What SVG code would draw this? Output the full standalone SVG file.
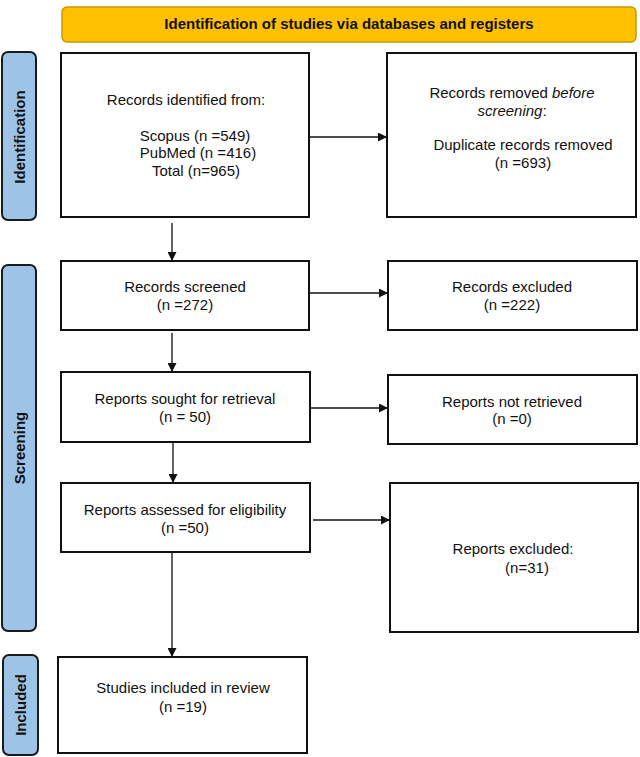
<svg xmlns="http://www.w3.org/2000/svg" width="640" height="757" viewBox="0 0 640 757">
<style>
text{font-family:"Liberation Sans",Arial,sans-serif;font-size:15px;fill:#111;text-anchor:middle}
.box{fill:#fff;stroke:#111;stroke-width:2}
.bar{fill:#9DC3E6;stroke:#1a1a1a;stroke-width:2}
.lab{font-weight:bold}
.con{stroke:#111;stroke-width:1.3;fill:none;marker-end:url(#ah)}
</style>
<defs>
<marker id="ah" viewBox="0 0 10 10" refX="10" refY="5" markerWidth="9" markerHeight="9" markerUnits="userSpaceOnUse" orient="auto">
<path d="M0,0 L10,5 L0,10 z" fill="#111"/>
</marker>
</defs>
<rect width="640" height="757" fill="#fff"/>
<g id="banner">
<rect x="62" y="7" width="574" height="35" rx="5" fill="#FFC000" stroke="#C49A00" stroke-width="1.5"/>
<text x="349" y="29" class="lab">Identification of studies via databases and registers</text>
</g>
<g id="bar-identification">
<rect class="bar" x="2" y="52" width="34" height="168" rx="6"/>
<text class="lab" transform="translate(25,137) rotate(-90)">Identification</text>
</g>
<g id="bar-screening">
<rect class="bar" x="2" y="265" width="34" height="366" rx="6"/>
<text class="lab" transform="translate(25,448) rotate(-90)">Screening</text>
</g>
<g id="bar-included">
<rect class="bar" x="3" y="655" width="35" height="100" rx="6"/>
<text class="lab" transform="translate(26,705) rotate(-90)">Included</text>
</g>
<g id="records-identified">
<rect class="box" x="61" y="53" width="248" height="164"/>
<text x="186" y="105">Records identified from:</text>
<text x="195" y="141">Scopus (n =549)</text>
<text x="198" y="158">PubMed (n =416)</text>
<text x="196" y="176">Total (n=965)</text>
</g>
<g id="records-removed">
<rect class="box" x="387" y="53" width="249" height="164"/>
<text x="512" y="98">Records removed <tspan font-style="italic">before</tspan></text>
<text x="512" y="116"><tspan font-style="italic">screening</tspan>:</text>
<text x="523" y="150">Duplicate records removed</text>
<text x="523" y="168">(n =693)</text>
</g>
<g id="records-screened">
<rect class="box" x="61" y="261" width="248" height="69"/>
<text x="185" y="292">Records screened</text>
<text x="185" y="310">(n =272)</text>
</g>
<g id="records-excluded">
<rect class="box" x="388" y="261" width="249" height="69"/>
<text x="512" y="292">Records excluded</text>
<text x="512" y="310">(n =222)</text>
</g>
<g id="reports-sought">
<rect class="box" x="61" y="372" width="249" height="70"/>
<text x="185" y="404">Reports sought for retrieval</text>
<text x="185" y="422">(n = 50)</text>
</g>
<g id="reports-not-retrieved">
<rect class="box" x="388" y="375" width="249" height="69"/>
<text x="512" y="407">Reports not retrieved</text>
<text x="512" y="424">(n =0)</text>
</g>
<g id="reports-assessed">
<rect class="box" x="61" y="483" width="249" height="69"/>
<text x="185" y="515">Reports assessed for eligibility</text>
<text x="185" y="533">(n =50)</text>
</g>
<g id="reports-excluded">
<rect class="box" x="390" y="483" width="248" height="149"/>
<text x="513" y="554">Reports excluded:</text>
<text x="527" y="573">(n=31)</text>
</g>
<g id="studies-included">
<rect class="box" x="58" y="657" width="249" height="96"/>
<text x="183" y="693">Studies included in review</text>
<text x="183" y="712">(n =19)</text>
</g>
<g id="connectors">
<line class="con" x1="310" y1="137" x2="387" y2="137"/>
<line class="con" x1="172" y1="223" x2="172" y2="261"/>
<line class="con" x1="310" y1="293" x2="388" y2="293"/>
<line class="con" x1="172" y1="333" x2="172" y2="372"/>
<line class="con" x1="311" y1="408" x2="388" y2="408"/>
<line class="con" x1="173" y1="443" x2="173" y2="483"/>
<line class="con" x1="313" y1="520" x2="390" y2="520"/>
<line class="con" x1="172" y1="553" x2="172" y2="657"/>
</g>
</svg>
